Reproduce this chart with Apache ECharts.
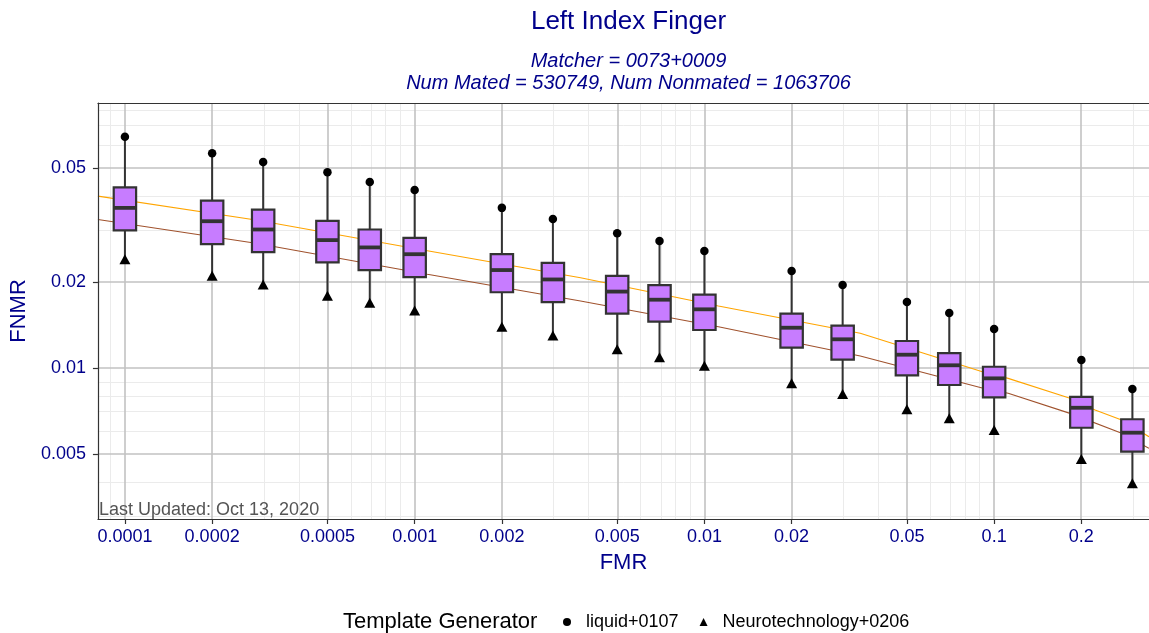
<!DOCTYPE html>
<html>
<head>
<meta charset="utf-8">
<script src="https://cdn.jsdelivr.net/npm/echarts@6/dist/echarts.min.js"></script>
<style>
html,body{margin:0;padding:0;background:#ffffff;}
#chart{width:1149px;height:633px;}
</style>
</head>
<body>
<div id="chart"></div>
<script>
// ---------------- data ----------------
const fmrLevels = [0.0001, 0.0002, 0.0003, 0.0005, 0.0007, 0.001, 0.002, 0.003, 0.005, 0.007,
                   0.01, 0.02, 0.03, 0.05, 0.07, 0.1, 0.2, 0.3];
// whisker upper end (liquid+0107 point)
const fnmrHigh   = [0.0644, 0.0563, 0.0525, 0.0484, 0.0447, 0.0419, 0.0363, 0.0332, 0.0296, 0.0278,
                    0.02565, 0.02183, 0.0195, 0.0170, 0.01557, 0.01369, 0.01066, 0.00845];
const fnmrQ3     = [0.0428, 0.0385, 0.0358, 0.0327, 0.0305, 0.0285, 0.0250, 0.0233, 0.0210, 0.0195,
                    0.01804, 0.0155, 0.01406, 0.01243, 0.01128, 0.0101, 0.00792, 0.00662];
const fnmrMedian = [0.0363, 0.0326, 0.0305, 0.0280, 0.0264, 0.0250, 0.0220, 0.0204, 0.0185, 0.01733,
                    0.01604, 0.01383, 0.0126, 0.01113, 0.01022, 0.0092, 0.00726, 0.00594];
const fnmrQ1     = [0.0303, 0.0271, 0.0254, 0.0234, 0.0220, 0.0208, 0.0184, 0.0170, 0.0155, 0.01452,
                    0.01358, 0.01178, 0.01069, 0.00943, 0.00872, 0.0079, 0.00618, 0.0051];
// whisker lower end (Neurotechnology+0206 point)
const fnmrLow    = [0.0240, 0.0210, 0.0196, 0.0179, 0.0169, 0.0159, 0.01394, 0.0130, 0.01162, 0.0109,
                    0.01019, 0.00884, 0.00811, 0.00717, 0.00667, 0.00607, 0.00481, 0.00395];

// DET curves
const orangeFmr  = [0.0000807, 0.000283, 0.001106, 0.003737, 0.01118, 0.03451, 0.09165, 0.1118, 0.1828, 0.223, 0.2756, 0.3422];
const orangeFnmr = [0.0399, 0.03293, 0.0257, 0.02068, 0.01647, 0.01322, 0.00968, 0.0092, 0.00784, 0.00713, 0.00658, 0.00575];
const brownFmr   = [0.0000807, 0.000283, 0.001106, 0.003737, 0.01118, 0.03451, 0.09165, 0.1118, 0.1828, 0.2756, 0.3422];
const brownFnmr  = [0.03305, 0.02729, 0.02126, 0.01715, 0.01394, 0.01101, 0.0085, 0.00816, 0.00694, 0.00591, 0.00524];

// tick labels
const xTickValues = [0.0001, 0.0002, 0.0005, 0.001, 0.002, 0.005, 0.01, 0.02, 0.05, 0.1, 0.2];
const xTickLabels = ['0.0001', '0.0002', '0.0005', '0.001', '0.002', '0.005', '0.01', '0.02', '0.05', '0.1', '0.2'];
const yTickValues = [0.005, 0.01, 0.02, 0.05];
const yTickLabels = ['0.005', '0.01', '0.02', '0.05'];

const seriesNames = ['liquid+0107', 'Neurotechnology+0206'];
const titleText = 'Left Index Finger';
const subtitleLines = ['Matcher = 0073+0009', 'Num Mated = 530749, Num Nonmated = 1063706'];
const footnote = 'Last Updated: Oct 13, 2020';

// ---------------- chart ----------------
const FONT = '"Liberation Sans", Arial, Helvetica, sans-serif';
const NAVY = '#00008B';
const INK = '#333333';
const L = v => Math.log10(v);

const X_MIN = -4.0931, X_MAX = -0.4655;   // log10 FMR extent visible in the panel
const Y_MIN = -2.528,  Y_MAX = -1.0734;   // log10 FNMR extent of the panel

function isMajor(v, majors) {
  return majors.some(m => Math.abs(v / m - 1) < 1e-6);
}
function gridValues(lo, hi, majors) {
  const out = [];
  for (let e = -6; e <= 1; e++) {
    for (let k = 1; k <= 9; k++) {
      const v = k * Math.pow(10, e);
      const lv = L(v);
      if (lv > lo && lv < hi && !isMajor(v, majors)) out.push(v);
    }
  }
  return out;
}
const minorX = gridValues(X_MIN, X_MAX, xTickValues);
const minorY = gridValues(Y_MIN, Y_MAX, yTickValues);

const MINOR = { color: '#EBEBEB', width: 1, type: 'solid' };
const MAJOR = { color: '#C2C2C2', width: 1.6, type: 'solid' };
const gridLineData = []
  .concat(minorX.map(v => ({ xAxis: L(v), lineStyle: MINOR })))
  .concat(minorY.map(v => ({ yAxis: L(v), lineStyle: MINOR })))
  .concat(xTickValues.map(v => ({ xAxis: L(v), lineStyle: MAJOR })))
  .concat(yTickValues.map(v => ({ yAxis: L(v), lineStyle: MAJOR })));

function labelFor(v, values, labels) {
  for (let i = 0; i < values.length; i++) {
    if (Math.abs(L(values[i]) - v) < 1e-6) return labels[i];
  }
  return '';
}

const boxData = fmrLevels.map((f, i) => [L(f), L(fnmrLow[i]), L(fnmrQ1[i]), L(fnmrMedian[i]), L(fnmrQ3[i]), L(fnmrHigh[i])]);
const highPts = fmrLevels.map((f, i) => [L(f), L(fnmrHigh[i])]);
const lowPts  = fmrLevels.map((f, i) => [L(f), L(fnmrLow[i])]);
const orangePts = orangeFmr.map((f, i) => [L(f), L(orangeFnmr[i])]);
const brownPts  = brownFmr.map((f, i) => [L(f), L(brownFnmr[i])]);

const chart = echarts.init(document.getElementById('chart'), null, { renderer: 'canvas' });

const option = {
  animation: false,
  backgroundColor: '#ffffff',
  textStyle: { fontFamily: FONT },
  grid: { left: 97, top: 103, right: 0, height: 416, show: false },
  xAxis: [
    {
      type: 'value', min: X_MIN, max: X_MAX, position: 'bottom', z: 5,
      name: 'FMR', nameLocation: 'middle', nameGap: 33,
      nameTextStyle: { fontSize: 22, color: NAVY, fontFamily: FONT },
      axisLine: { show: true, lineStyle: { color: INK, width: 1.2 } },
      splitLine: { show: false },
      axisTick: { show: true, length: 5, customValues: xTickValues.map(L), lineStyle: { color: INK, width: 1.2 } },
      axisLabel: {
        show: true, customValues: xTickValues.map(L), margin: 9,
        fontSize: 18, color: NAVY, fontFamily: FONT,
        formatter: v => labelFor(v, xTickValues, xTickLabels)
      }
    },
    {
      type: 'value', min: X_MIN, max: X_MAX, position: 'top', z: 5,
      axisLine: { show: true, lineStyle: { color: INK, width: 1.2 } },
      splitLine: { show: false }, axisTick: { show: false }, axisLabel: { show: false }
    }
  ],
  yAxis: {
    type: 'value', min: Y_MIN, max: Y_MAX, z: 5,
    name: 'FNMR', nameLocation: 'middle', nameGap: 54,
    nameTextStyle: { fontSize: 22, color: NAVY, fontFamily: FONT },
    axisLine: { show: true, lineStyle: { color: INK, width: 1.2 } },
    splitLine: { show: false },
    axisTick: { show: true, length: 5, customValues: yTickValues.map(L), lineStyle: { color: INK, width: 1.2 } },
    axisLabel: {
      show: true, customValues: yTickValues.map(L), margin: 12,
      fontSize: 18, color: NAVY, fontFamily: FONT,
      formatter: v => labelFor(v, yTickValues, yTickLabels)
    }
  },
  legend: {
    left: 563, top: 613, padding: 0,
    itemWidth: 8, itemHeight: 8, itemGap: 21,
    textStyle: { fontSize: 18, color: '#000000', fontFamily: FONT, padding: [0, 0, 0, 10] },
    data: [
      { name: seriesNames[0], icon: 'circle', itemStyle: { color: '#000000', opacity: 1 } },
      { name: seriesNames[1], icon: 'triangle', itemStyle: { color: '#000000', opacity: 1 } }
    ],
    selectedMode: false
  },
  graphic: [
    { type: 'text', x: 628.5, y: 22, z: 100,
      style: { text: titleText, fontSize: 26, fontFamily: FONT, fill: NAVY, align: 'center', verticalAlign: 'middle' } },
    { type: 'text', x: 628.5, y: 61, z: 100,
      style: { text: subtitleLines[0], fontSize: 20, fontStyle: 'italic', fontFamily: FONT, fill: NAVY, align: 'center', verticalAlign: 'middle' } },
    { type: 'text', x: 628.5, y: 83, z: 100,
      style: { text: subtitleLines[1], fontSize: 20, fontStyle: 'italic', fontFamily: FONT, fill: NAVY, align: 'center', verticalAlign: 'middle' } },
    { type: 'text', x: 99, y: 519, z: 100,
      style: { text: footnote, fontSize: 18, fontFamily: FONT, fill: '#555555', align: 'left', verticalAlign: 'bottom' } },
    { type: 'text', x: 343, y: 622, z: 100,
      style: { text: 'Template Generator', fontSize: 22, fontFamily: FONT, fill: '#000000', align: 'left', verticalAlign: 'middle' } }
  ],
  series: [
    {
      name: 'grid-lines', type: 'line', z: 1, silent: true,
      data: [[X_MIN, Y_MIN]], showSymbol: false, lineStyle: { opacity: 0 },
      markLine: {
        z: 1, silent: true, symbol: ['none', 'none'], label: { show: false },
        emphasis: { disabled: true }, animation: false,
        data: gridLineData
      }
    },
    {
      name: 'det-orange', type: 'line', z: 2, silent: true,
      data: orangePts, showSymbol: false, smooth: false,
      lineStyle: { color: '#FFA500', width: 1.1 }
    },
    {
      name: 'det-brown', type: 'line', z: 2, silent: true,
      data: brownPts, showSymbol: false, smooth: false,
      lineStyle: { color: '#A0522D', width: 1.1 }
    },
    {
      name: 'boxes', type: 'custom', z: 3, silent: true,
      data: boxData,
      encode: { x: 0, y: [1, 2, 3, 4, 5] },
      renderItem: function (params, api) {
        const x = api.value(0);
        const lo  = api.coord([x, api.value(1)]);
        const q1  = api.coord([x, api.value(2)]);
        const med = api.coord([x, api.value(3)]);
        const q3  = api.coord([x, api.value(4)]);
        const hi  = api.coord([x, api.value(5)]);
        const hw = 11.2;
        return {
          type: 'group',
          children: [
            { type: 'line', shape: { x1: hi[0], y1: hi[1], x2: q3[0], y2: q3[1] }, style: { stroke: INK, lineWidth: 2 } },
            { type: 'line', shape: { x1: q1[0], y1: q1[1], x2: lo[0], y2: lo[1] }, style: { stroke: INK, lineWidth: 2 } },
            { type: 'rect', shape: { x: q3[0] - hw, y: q3[1], width: 2 * hw, height: q1[1] - q3[1] },
              style: { fill: '#C77CFF', stroke: INK, lineWidth: 2.2 } },
            { type: 'line', shape: { x1: med[0] - hw, y1: med[1], x2: med[0] + hw, y2: med[1] },
              style: { stroke: INK, lineWidth: 3.8 } }
          ]
        };
      }
    },
    {
      name: seriesNames[0], type: 'scatter', z: 4, silent: true,
      data: highPts, symbol: 'circle', symbolSize: 8.5,
      itemStyle: { color: '#000000', opacity: 1 }
    },
    {
      name: seriesNames[1], type: 'scatter', z: 4, silent: true,
      data: lowPts, symbol: 'triangle', symbolSize: [11, 10],
      itemStyle: { color: '#000000', opacity: 1 }
    }
  ]
};
chart.setOption(option);
</script>
</body>
</html>
